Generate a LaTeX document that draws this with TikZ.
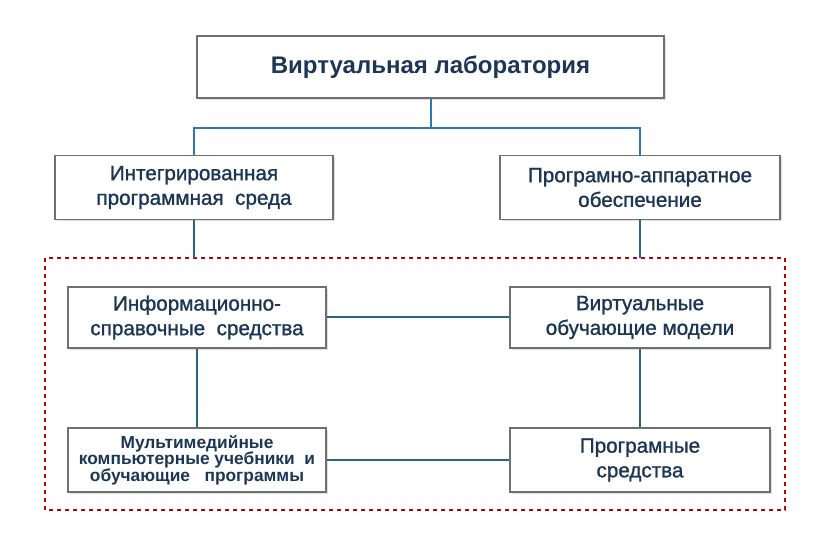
\documentclass[tikz,border=0pt]{standalone}
\usepackage{fontspec}
\setmainfont{Liberation Sans}
\newfontfamily\boxfont[FakeBold=1.2]{Liberation Sans}
\usetikzlibrary{shadows}
\definecolor{txtblue}{HTML}{1C3656}
\definecolor{linkblue}{HTML}{2E78B0}
\definecolor{linkteal}{HTML}{2A6580}
\definecolor{framegray}{HTML}{707070}
\tikzset{
  blockbox/.style={draw=framegray, line width=1.3pt, fill=white,
    drop shadow={shadow xshift=1.5pt, shadow yshift=-1.5pt, opacity=0.25},
    text=txtblue, align=center, inner sep=0pt},
  midtext/.style={font=\boxfont\fontsize{15.5}{18.5}\selectfont},
  link/.style={draw=linkteal, line width=1.5pt},
  toplink/.style={draw=linkblue, line width=1.5pt}
}
\begin{document}
\begin{tikzpicture}[x=0.75pt,y=-0.75pt]

    % Page frame
    \useasboundingbox (0,0) rectangle (821,538);

    % Top box
    \node[blockbox, minimum width=467*0.75pt, minimum height=62*0.75pt,
      font=\bfseries\fontsize{18}{21}\selectfont] (lab) at (430.5,67)
      {Виртуальная лаборатория};

    % Second level
    \node[blockbox, midtext, minimum width=278*0.75pt, minimum height=64*0.75pt]
      (env) at (194,187.5) {Интегрированная\\программная \ среда};
    \node[blockbox, midtext, minimum width=280*0.75pt, minimum height=64*0.75pt]
      (hard) at (640,187.5) {Програмно-аппаратное\\обеспечение};

    % Dashed area
    \draw[red!75!black, dashed, line width=0.9pt] (45,258) rectangle (785,510);
    \coordinate (envin) at (194,258);
    \coordinate (hardin) at (640,258);

    % Inner blocks
    \node[blockbox, midtext, minimum width=258*0.75pt, minimum height=61*0.75pt]
      (info) at (197,317.5) {Информационно-\\справочные \ средства};
    \node[blockbox, midtext, minimum width=260*0.75pt, minimum height=61*0.75pt]
      (models) at (640,317.5) {Виртуальные\\обучающие модели};
    \node[blockbox, minimum width=258*0.75pt, minimum height=64*0.75pt,
      font=\bfseries\fontsize{13}{12.4}\selectfont] (media) at (197,460)
      {Мультимедийные\\компьютерные учебники \ и\\обучающие \ \ программы};
    \node[blockbox, midtext, minimum width=260*0.75pt, minimum height=64*0.75pt]
      (soft) at (640,460) {Програмные\\средства};

    % Top connectors
    \draw[toplink] (lab.south) -- ++(0,29) -| (env.north);
    \draw[toplink] (lab.south) -- ++(0,29) -| (hard.north);
    \draw[link] (env.south) -- (envin);
    \draw[link] (hard.south) -- (hardin);

    % Inner connectors
    \draw[link] (info) -- (models);
    \draw[link] (info) -- (media);
    \draw[link] (models) -- (soft);
    \draw[link] (media) -- (soft);
\end{tikzpicture}
\end{document}
